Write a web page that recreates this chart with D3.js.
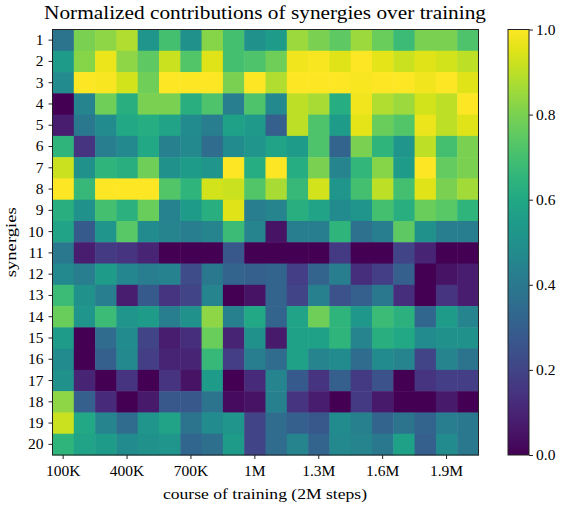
<!DOCTYPE html>
<html><head><meta charset="utf-8">
<script src="https://cdn.jsdelivr.net/npm/d3@7"></script>
<style>body{margin:0;background:#fff}svg text{font-family:"Liberation Serif","DejaVu Serif",serif;fill:#000}</style>
</head><body><svg id="c" width="563" height="506"></svg>
<script>
const synergies = d3.range(1, 21).map(String);
const steps = d3.range(1, 21).map(i => i * 100000);
const xTickLabels = ["100K","400K","700K","1M","1.3M","1.6M","1.9M"];
const xTickSteps = [100000,400000,700000,1000000,1300000,1600000,1900000];
const cbTicks = [0,0.2,0.4,0.6,0.8,1.0];
const values = [
 [0.38,0.80,0.83,0.88,0.52,0.70,0.50,0.82,0.70,0.50, 0.55,0.85,0.80,0.75,0.85,0.77,0.68,0.80,0.80,0.72],
 [0.55,0.82,0.97,0.83,0.75,0.92,0.73,0.95,0.70,0.72, 0.78,0.98,0.99,0.95,1.00,0.96,0.92,0.95,0.93,0.90],
 [0.48,1.00,0.99,0.93,0.78,1.00,1.00,1.00,0.80,1.00, 0.88,1.00,1.00,1.00,0.99,1.00,1.00,0.98,1.00,0.95],
 [0.00,0.45,0.78,0.63,0.80,0.80,0.63,0.72,0.42,0.72, 0.47,0.90,0.87,0.62,0.98,0.88,0.85,0.93,0.90,1.00],
 [0.08,0.40,0.48,0.60,0.62,0.58,0.48,0.42,0.57,0.54, 0.30,0.90,0.72,0.55,0.96,0.77,0.73,0.97,0.90,0.95],
 [0.65,0.15,0.42,0.47,0.60,0.43,0.47,0.35,0.48,0.52, 0.58,0.55,0.72,0.32,0.80,0.65,0.52,0.90,0.70,0.80],
 [0.92,0.50,0.65,0.63,0.78,0.50,0.55,0.52,1.00,0.62, 1.00,0.62,0.80,0.45,0.66,0.82,0.55,1.00,0.76,0.80],
 [1.00,0.67,1.00,1.00,1.00,0.73,0.65,0.93,0.92,0.73, 0.87,0.67,0.93,0.52,0.70,0.90,0.70,0.95,0.80,0.86],
 [0.63,0.50,0.70,0.64,0.77,0.44,0.55,0.63,0.95,0.42, 0.45,0.63,0.58,0.48,0.52,0.70,0.63,0.77,0.74,0.65],
 [0.58,0.28,0.52,0.74,0.48,0.45,0.42,0.45,0.68,0.45, 0.05,0.42,0.42,0.65,0.37,0.42,0.75,0.50,0.42,0.42],
 [0.40,0.08,0.17,0.15,0.10,0.00,0.00,0.00,0.27,0.00, 0.00,0.00,0.00,0.17,0.00,0.00,0.20,0.10,0.00,0.00],
 [0.47,0.42,0.55,0.46,0.42,0.44,0.23,0.40,0.32,0.30, 0.32,0.18,0.32,0.42,0.13,0.18,0.30,0.00,0.05,0.08],
 [0.68,0.50,0.42,0.08,0.28,0.15,0.20,0.45,0.00,0.05, 0.32,0.20,0.43,0.25,0.30,0.40,0.13,0.00,0.15,0.08],
 [0.77,0.52,0.68,0.52,0.55,0.42,0.50,0.83,0.43,0.60, 0.32,0.58,0.78,0.65,0.53,0.68,0.64,0.33,0.55,0.45],
 [0.55,0.00,0.35,0.48,0.20,0.08,0.13,0.77,0.10,0.50, 0.07,0.57,0.57,0.65,0.45,0.63,0.60,0.48,0.50,0.50],
 [0.48,0.00,0.30,0.47,0.18,0.10,0.10,0.67,0.18,0.42, 0.35,0.57,0.45,0.48,0.35,0.48,0.45,0.20,0.45,0.38],
 [0.50,0.10,0.00,0.15,0.00,0.15,0.05,0.55,0.00,0.12, 0.45,0.28,0.15,0.30,0.17,0.25,0.00,0.15,0.18,0.18],
 [0.83,0.30,0.12,0.00,0.07,0.27,0.27,0.38,0.03,0.05, 0.43,0.15,0.08,0.00,0.17,0.07,0.00,0.00,0.07,0.00],
 [0.92,0.60,0.45,0.35,0.52,0.58,0.38,0.48,0.52,0.20, 0.35,0.30,0.27,0.48,0.43,0.32,0.38,0.32,0.42,0.40],
 [0.65,0.58,0.55,0.48,0.50,0.52,0.33,0.36,0.55,0.20, 0.35,0.45,0.32,0.47,0.45,0.40,0.57,0.30,0.48,0.40]
];

const svg = d3.select("#c");
const L = 52.5, R = 478.5, T = 29.5, B = 455;
const x = d3.scaleBand().domain(steps).range([L, R]);
const y = d3.scaleBand().domain(synergies).range([T, B]);
const color = d3.scaleSequential(d3.interpolateViridis).domain([0, 1]);

const cells = [];
values.forEach((row, j) => row.forEach((v, i) => cells.push({s: synergies[j], t: steps[i], v})));
svg.append("g").selectAll("rect").data(cells).join("rect")
  .attr("x", d => x(d.t)).attr("y", d => y(d.s))
  .attr("width", x.bandwidth() + 0.5).attr("height", y.bandwidth() + 0.5)
  .attr("fill", d => color(d.v));
svg.append("rect").attr("x", L).attr("y", T).attr("width", R - L).attr("height", B - T)
  .attr("fill", "none").attr("stroke", "#222").attr("stroke-width", 1);

const FS = "15.5px";
const fmt = new Map(xTickSteps.map((s, i) => [s, xTickLabels[i]]));
const xAxis = svg.append("g").attr("transform", `translate(0,${B})`)
  .call(d3.axisBottom(x).tickValues(xTickSteps).tickFormat(d => fmt.get(d)).tickSize(4).tickPadding(6));
const yAxis = svg.append("g").attr("transform", `translate(${L},0)`)
  .call(d3.axisLeft(y).tickSize(4).tickPadding(5));
[xAxis, yAxis].forEach(a => {
  a.select(".domain").remove();
  a.selectAll("line").attr("stroke", "#222");
  a.selectAll("text").style("font-size", FS).style("font-family", '"Liberation Serif",serif');
});

svg.append("text").attr("x", 265).attr("y", 19).attr("text-anchor", "middle")
  .attr("textLength", 442).attr("lengthAdjust", "spacingAndGlyphs")
  .style("font-size", "19px").text("Normalized contributions of synergies over training");
svg.append("text").attr("x", 265).attr("y", 499).attr("text-anchor", "middle")
  .attr("textLength", 204).attr("lengthAdjust", "spacingAndGlyphs")
  .style("font-size", FS).text("course of training (2M steps)");
svg.append("text").attr("transform", `translate(16,${(T + B) / 2}) rotate(-90)`).attr("text-anchor", "middle")
  .attr("textLength", 70).attr("lengthAdjust", "spacingAndGlyphs")
  .style("font-size", FS).text("synergies");

// colorbar
const cbX = 508, cbW = 21;
const cy = d3.scaleLinear().domain([0, 1]).range([B, T]);
const defs = svg.append("defs");
const grad = defs.append("linearGradient").attr("id", "g").attr("x1", 0).attr("y1", 1).attr("x2", 0).attr("y2", 0);
d3.range(0, 1.0001, 0.05).forEach(t => grad.append("stop").attr("offset", t).attr("stop-color", color(t)));
svg.append("rect").attr("x", cbX).attr("y", T).attr("width", cbW).attr("height", B - T)
  .attr("fill", "url(#g)").attr("stroke", "#222").attr("stroke-width", 1);
const cAxis = svg.append("g").attr("transform", `translate(${cbX + cbW},0)`)
  .call(d3.axisRight(cy).tickValues(cbTicks).tickFormat(d3.format(".1f")).tickSize(4).tickPadding(3));
cAxis.select(".domain").remove();
cAxis.selectAll("line").attr("stroke", "#222");
cAxis.selectAll("text").style("font-size", FS).style("font-family", '"Liberation Serif",serif');
</script></body></html>
